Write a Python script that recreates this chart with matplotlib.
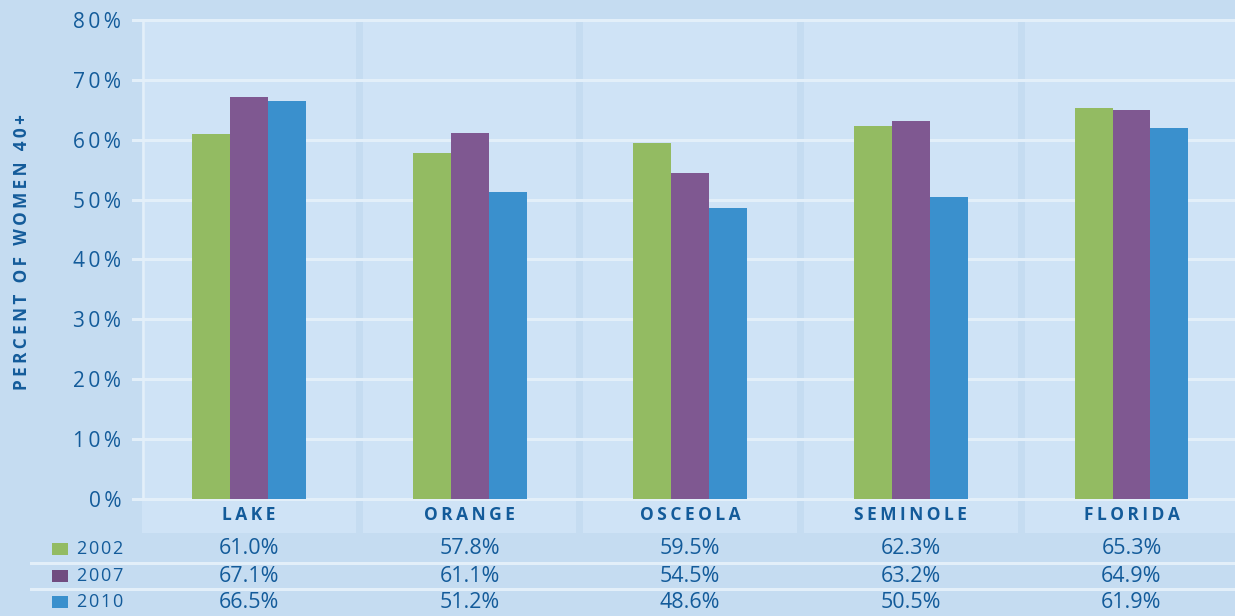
import matplotlib
matplotlib.use("Agg")
import matplotlib.pyplot as plt
from matplotlib.transforms import blended_transform_factory
from matplotlib.patches import Rectangle
import numpy as np

categories = ["LAKE", "ORANGE", "OSCEOLA", "SEMINOLE", "FLORIDA"]
years = ["2002", "2007", "2010"]
v2002 = [61.0, 57.8, 59.5, 62.3, 65.3]
v2007 = [67.1, 61.1, 54.5, 63.2, 64.9]
v2010 = [66.5, 51.2, 48.6, 50.5, 61.9]
yticks = [0, 10, 20, 30, 40, 50, 60, 70, 80]
ylabel = "PERCENT OF WOMEN 40+"

series = [v2002, v2007, v2010]
colors = ["#93bb62", "#7f5891", "#3a90cd"]
legend_colors = ["#93bb62", "#714c80", "#3a90cd"]
bg = "#c5dcf1"
panel = "#cfe3f6"
grid = "#e3eff9"
txt = "#135b9a"
FAM = ["Open Sans", "DejaVu Sans"]
TS = "\u2009"
HS = "\u200a"

W, H = 1235, 616
fig = plt.figure(figsize=(W / 100, H / 100), dpi=100, facecolor=bg)

def fx(px):
    return px / W

def fy(py):
    return 1 - py / H

ax_left, ax_right = 138.7, 1241.8
ax_top, ax_bot = 20, 533
ax = fig.add_axes([fx(ax_left), fy(ax_bot), (ax_right - ax_left) / W, (ax_bot - ax_top) / H])
ax.set_facecolor("none")
ax.set_xlim(-0.5, 4.5)
ax.set_ylim(-5.68, 80)
for s in ax.spines.values():
    s.set_visible(False)

x = np.arange(len(categories))
# panels
for i in x:
    ax.axvspan(i - 0.484, i + 0.484, ymin=0, ymax=1, color=panel, zorder=0, lw=0)

# gridlines
for t in yticks:
    ax.axhline(t, xmin=-0.005, xmax=1, color=grid, lw=2.2, zorder=1, clip_on=False)
ax.vlines(-0.48, 0, 80.3, color=grid, lw=1.8, zorder=1)

bw = 0.172
for k, (vals, c) in enumerate(zip(series, colors)):
    ax.bar(x + (k - 1) * bw, vals, width=bw, color=c, zorder=3, lw=0)

ax.set_xticks([])
ax.set_yticks(yticks)
ax.set_yticklabels([TS.join(f"{t}%") for t in yticks], fontsize=15, color=txt, family=FAM)
ax.tick_params(axis="y", length=0, pad=12.5)

# category labels
for i, c in enumerate(categories):
    ax.text(i, -2.75, TS.join(c), ha="center", va="center", fontsize=12.5,
            fontweight="bold", color=txt, family=FAM, zorder=4)

# y label
fig.text(fx(22), fy(252), TS.join(ylabel), rotation=90, ha="center", va="center",
         fontsize=12.3, fontweight="bold", color=txt, family=FAM)

# table
tr = blended_transform_factory(ax.transData, fig.transFigure)
row_y = [549, 576, 602]
for yy in [563, 589]:
    fig.add_artist(plt.Line2D([fx(31), 1], [fy(yy), fy(yy)], color=grid, lw=2.2,
                              transform=fig.transFigure))
for r, (yr, vals) in enumerate(zip(years, series)):
    cy = row_y[r]
    fig.add_artist(Rectangle((fx(52), fy(cy + 6)), 16 / W, 12 / H, color=legend_colors[r],
                             transform=fig.transFigure, lw=0))
    fig.text(fx(77), fy(cy), HS.join(yr), ha="left", va="center", fontsize=13,
             color=txt, family=FAM)
    for i, v in enumerate(vals):
        ax.text(i, fy(cy), f"{v:.1f}%", transform=tr, ha="center", va="center",
                fontsize=15.5, color=txt, family=FAM, clip_on=False)

fig.savefig("out.png", dpi=100, facecolor=bg)
